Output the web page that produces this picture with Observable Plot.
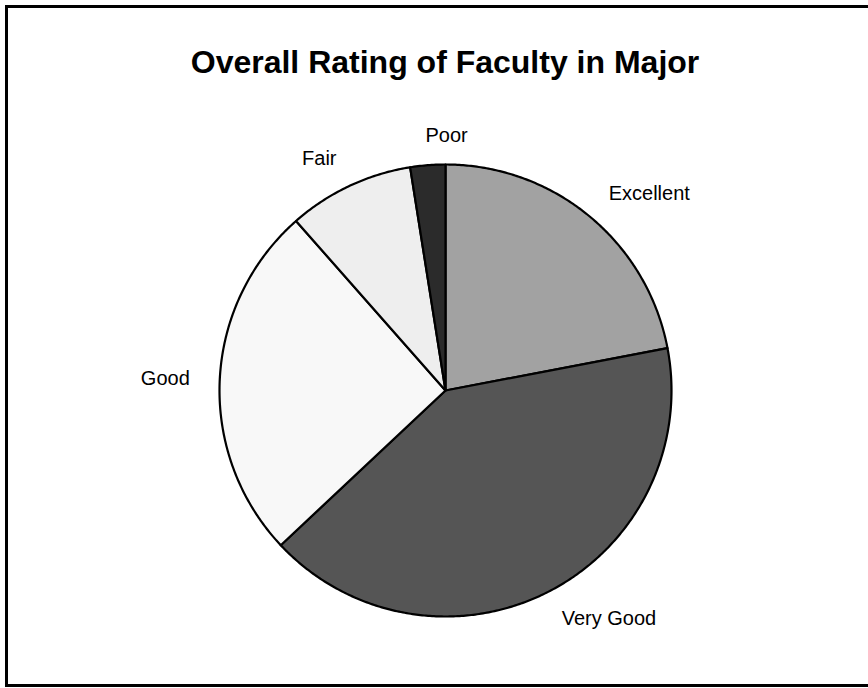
<!DOCTYPE html>
<html>
<head>
<meta charset="utf-8">
<script src="https://cdn.jsdelivr.net/npm/d3@7"></script>
<script src="https://cdn.jsdelivr.net/npm/@observablehq/plot@0.6"></script>
<style>
  html, body { margin: 0; padding: 0; background: #fff; overflow: hidden; }
  body { width: 868px; height: 688px; position: relative; font-family: "Liberation Sans", Arial, sans-serif; }
  #frame { position: absolute; left: 5px; top: 5px; width: 900px; height: 676px; border: 3px solid #000; box-sizing: content-box; }
  #title { position: absolute; left: 0; top: 43px; width: 890px; text-align: center; font-weight: bold; font-size: 32px; color: #000; line-height: 38px; }
  #chart { position: absolute; left: 0; top: 100px; }
</style>
</head>
<body>
<div id="frame"></div>
<div id="title">Overall Rating of Faculty in Major</div>
<div id="chart"></div>
<script>
const categories = ["Excellent", "Very Good", "Good", "Fair", "Poor"];
const values = [22, 41, 25.5, 9, 2.5];
const colors = ["#a2a2a2", "#555555", "#f8f8f8", "#eeeeee", "#2b2b2b"];

const W = 868, H = 588;
const cx = 445, cy = 290, r = 226, labelR = 256;

const data = categories.map((c, i) => ({category: c, value: values[i], color: colors[i]}));
const arcs = d3.pie().sort(null).value(d => d.value).startAngle(0).endAngle(2 * Math.PI)(data);

function slicePoints(a) {
  const pts = [{x: 0, y: 0}];
  const n = Math.max(2, Math.ceil((a.endAngle - a.startAngle) / (Math.PI / 360)));
  for (let k = 0; k <= n; k++) {
    const t = a.startAngle + (a.endAngle - a.startAngle) * k / n;
    pts.push({x: Math.sin(t), y: Math.cos(t)});
  }
  pts.push({x: 0, y: 0});
  return pts;
}

const labels = arcs.map(a => {
  const m = (a.startAngle + a.endAngle) / 2;
  const k = labelR / r;
  return {text: a.data.category, x: k * Math.sin(m), y: k * Math.cos(m), s: Math.sin(m)};
});

const marks = arcs.map(a => Plot.line(slicePoints(a), {
  x: "x", y: "y", fill: a.data.color, stroke: "#000", strokeWidth: 2.2, strokeLinejoin: "round", curve: "linear"
}));

marks.push(Plot.text(labels.filter(d => d.s > -0.2), {x: "x", y: "y", text: "text", textAnchor: "start", lineAnchor: "middle", fontSize: 20, fill: "#000"}));
marks.push(Plot.text(labels.filter(d => d.s <= -0.2), {x: "x", y: "y", text: "text", textAnchor: "end", lineAnchor: "middle", fontSize: 20, fill: "#000"}));

const chart = Plot.plot({
  width: W, height: H,
  margin: 0,
  style: {background: "transparent", fontFamily: "'Liberation Sans', Arial, sans-serif"},
  x: {domain: [-cx / r, (W - cx) / r], axis: null},
  y: {domain: [(cy - H) / r, cy / r], axis: null},
  marks
});
document.getElementById("chart").appendChild(chart);
</script>
</body>
</html>
